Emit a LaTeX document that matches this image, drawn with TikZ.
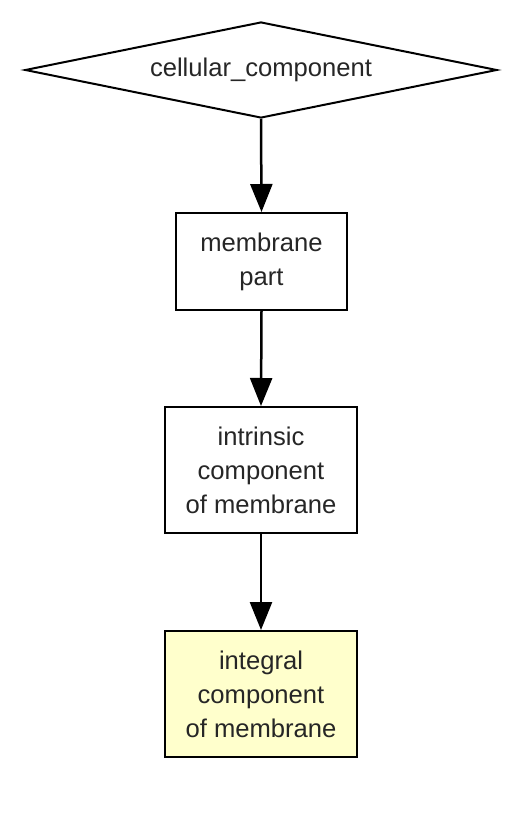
\documentclass[tikz,border=0pt]{standalone}
\usepackage{fontspec}
\setmainfont{Liberation Sans}
\usetikzlibrary{arrows.meta,shapes.geometric}

\begin{document}
\begin{tikzpicture}[x=1pt,y=-1pt,
    every node/.style={font=\fontsize{25.6}{34}\selectfont,text=black!85,align=center},
    term/.style={draw,line width=2pt,rectangle,inner sep=0pt},
    isa/.style={line width=2.5pt,-{Triangle[length=28pt,width=22pt]}}]
\useasboundingbox (0,0) rectangle (526,816);
\node [draw,line width=2pt,diamond,aspect=4.9,inner sep=0pt,
       minimum width=472pt,minimum height=96pt] (cc) at (261,70) {cellular\_component};
\node [term,minimum width=171pt,minimum height=97pt] (mp) at (261.5,261.5) {membrane\\part};
\node [term,minimum width=192pt,minimum height=126pt] (icm) at (261,470) {intrinsic\\component\\of membrane};
\node [term,fill={rgb,255:red,255;green,255;blue,204},minimum width=192pt,minimum height=126pt]
      (igm) at (261,694) {integral\\component\\of membrane};
% is_a links
\draw [isa] (cc.south) -- (mp.north);
\draw [isa] (mp.south) -- (icm.north);
\draw [isa] (icm.south) -- (igm.north);
\end{tikzpicture}
\end{document}
